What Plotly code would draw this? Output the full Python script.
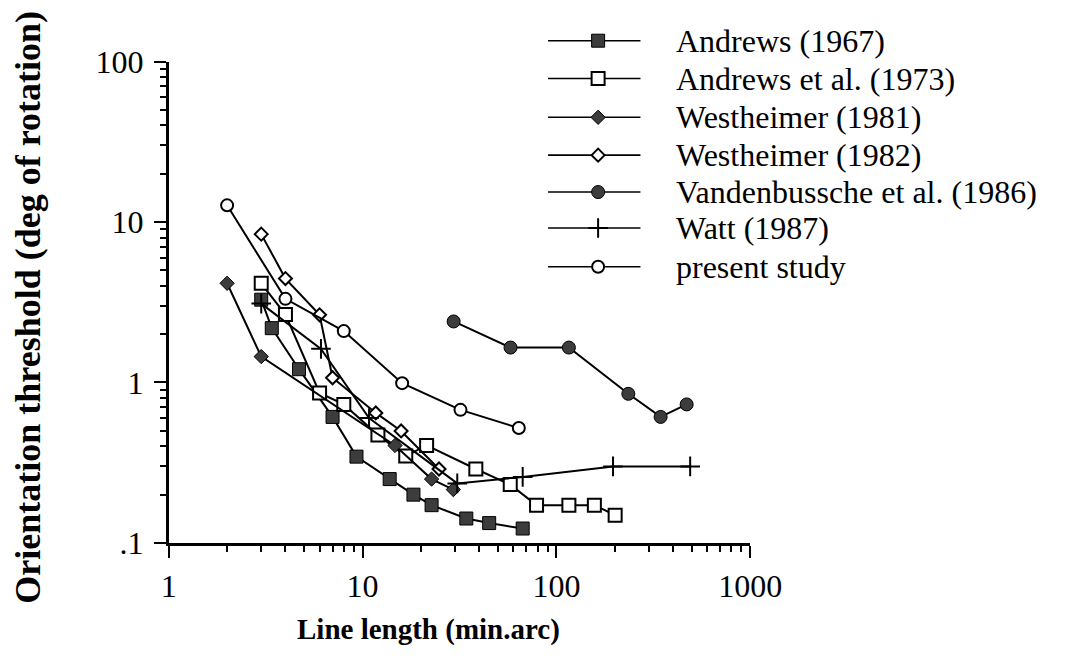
import plotly.graph_objects as go

# ---- data: orientation threshold (deg of rotation) vs line length (min.arc) ----
andrews67_x = [3, 3.4, 4.7, 7, 9.3, 13.8, 18.3, 22.7, 34.3, 45, 67]
andrews67_y = [3.28, 2.18, 1.21, 0.61, 0.345, 0.25, 0.2, 0.172, 0.142, 0.133, 0.123]

andrews73_x = [3, 4, 6, 8, 12, 16.7, 21.4, 38.4, 57.8, 79, 116, 157, 201]
andrews73_y = [4.15, 2.65, 0.86, 0.73, 0.47, 0.348, 0.405, 0.289, 0.231, 0.172, 0.172, 0.172, 0.149]

west81_x = [2, 3, 14.7, 22.7, 29.4]
west81_y = [4.15, 1.45, 0.405, 0.25, 0.215]

west82_x = [3, 4, 6, 7, 11.7, 15.8, 24.8]
west82_y = [8.4, 4.44, 2.64, 1.07, 0.646, 0.499, 0.289]

vanden_x = [29.5, 58, 116, 235, 345, 470]
vanden_y = [2.4, 1.65, 1.65, 0.85, 0.61, 0.73]

watt_x = [3, 6.1, 10.8, 30.8, 67, 196, 490]
watt_y = [3.1, 1.62, 0.6, 0.235, 0.258, 0.3, 0.3]

present_x = [2, 4, 8, 16, 32, 64]
present_y = [12.7, 3.32, 2.09, 0.99, 0.675, 0.52]

series_names = [
    "Andrews (1967)",
    "Andrews et al. (1973)",
    "Westheimer (1981)",
    "Westheimer (1982)",
    "Vandenbussche et al. (1986)",
    "Watt (1987)",
    "present study",
]

x_tickvals = [1, 10, 100, 1000]
x_ticktext = ["1", "10", "100", "1000"]
y_tickvals = [0.1, 1, 10, 100]
y_ticktext = [".1", "1", "10", "100"]

# ---- styling ----
W, H = 1071, 665
FONT = "Liberation Serif"
DARK = "#3c3c3c"

marker_styles = [
    dict(symbol="square", size=13, color=DARK, line=dict(color="black", width=1)),
    dict(symbol="square", size=13, color="white", line=dict(color="black", width=2)),
    dict(symbol="diamond", size=11, color=DARK, line=dict(color="black", width=1)),
    dict(symbol="diamond", size=10, color="white", line=dict(color="black", width=2)),
    dict(symbol="circle", size=13, color=DARK, line=dict(color="black", width=1)),
    dict(symbol="cross-thin", size=14, color="black", line=dict(color="black", width=2)),
    dict(symbol="circle", size=12, color="white", line=dict(color="black", width=2)),
]

series = [
    (andrews67_x, andrews67_y),
    (andrews73_x, andrews73_y),
    (west81_x, west81_y),
    (west82_x, west82_y),
    (vanden_x, vanden_y),
    (watt_x, watt_y),
    (present_x, present_y),
]

fig = go.Figure()

for (xs, ys), name, mk in zip(series, series_names, marker_styles):
    fig.add_trace(go.Scatter(
        x=xs, y=ys, name=name, mode="lines+markers",
        line=dict(color="black", width=2),
        marker=mk, cliponaxis=False, showlegend=False,
        xaxis="x", yaxis="y",
    ))

# ---- hand-drawn key, laid out in pixel space on a full-figure overlay ----
key_line_x0, key_line_x1, key_marker_x, key_text_x = 561, 657, 613, 692
key_rows = [24, 64, 105, 145, 184, 222, 263]

for name, mk, row in zip(series_names, marker_styles, key_rows):
    fig.add_trace(go.Scatter(
        x=[key_line_x0, key_line_x1], y=[row, row], mode="lines",
        line=dict(color="black", width=1.6), showlegend=False,
        xaxis="x2", yaxis="y2", hoverinfo="skip",
    ))
    fig.add_trace(go.Scatter(
        x=[key_marker_x], y=[row], mode="markers", marker=mk,
        showlegend=False, xaxis="x2", yaxis="y2", hoverinfo="skip",
    ))
    fig.add_annotation(
        x=key_text_x, y=row, xref="x2", yref="y2", text=name,
        showarrow=False, xanchor="left", yanchor="middle",
        font=dict(family=FONT, size=32, color="black"),
    )

# axis titles
fig.add_annotation(
    x=21, y=306, xref="x2", yref="y2",
    text="<b>Orientation threshold (deg of rotation)</b>",
    textangle=-90, showarrow=False, xanchor="center", yanchor="middle",
    font=dict(family=FONT, size=36, color="black"),
)
fig.add_annotation(
    x=437, y=646, xref="x2", yref="y2",
    text="<b>Line length (min.arc)</b>",
    showarrow=False, xanchor="center", yanchor="middle",
    font=dict(family=FONT, size=29, color="black"),
)

x_minor = [m * 10 ** d for d in range(0, 3) for m in range(2, 10)]
y_minor = [m * 10 ** d for d in range(-1, 2) for m in range(2, 10)]

common_axis = dict(
    type="log", showline=True, linecolor="black", linewidth=2.5,
    ticks="outside", ticklen=12, tickwidth=2, tickcolor="black",
    showgrid=False, zeroline=False,
    tickfont=dict(family=FONT, size=32, color="black"),
)

fig.update_layout(
    width=W, height=H,
    margin=dict(l=0, r=0, t=0, b=0),
    paper_bgcolor="white", plot_bgcolor="rgba(0,0,0,0)",
    showlegend=False,
    xaxis=dict(
        **common_axis, range=[0, 3], domain=[167 / W, 771 / W], anchor="y",
        tickmode="array", tickvals=x_tickvals, ticktext=x_ticktext,
        minor=dict(tickmode="array", tickvals=x_minor, ticks="outside",
                   ticklen=6, tickwidth=2, tickcolor="black", showgrid=False),
        ticklabelstandoff=1,
    ),
    yaxis=dict(
        **common_axis, range=[-1, 2], domain=[(H - 555) / H, (H - 46) / H], anchor="x",
        tickmode="array", tickvals=y_tickvals, ticktext=y_ticktext,
        minor=dict(tickmode="array", tickvals=y_minor, ticks="outside",
                   ticklen=6, tickwidth=2, tickcolor="black", showgrid=False),
        ticklabelstandoff=4,
    ),
    xaxis2=dict(domain=[0, 1], range=[0, W], visible=False, anchor="y2", fixedrange=True),
    yaxis2=dict(domain=[0, 1], range=[H, 0], visible=False, anchor="x2", fixedrange=True),
)

fig.write_html("out.html")
